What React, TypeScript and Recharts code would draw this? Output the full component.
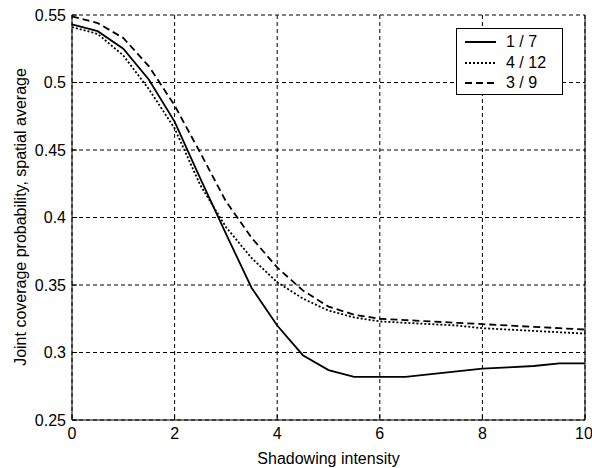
import { CartesianGrid, Line, LineChart, ReferenceLine, XAxis, YAxis } from "recharts";

// shadowing intensity samples and the spatial-average joint coverage per configuration
const intensity = [0, 0.5, 1, 1.5, 2, 2.5, 3, 3.5, 4, 4.5, 5, 5.5, 6, 6.5, 7, 7.5, 8, 8.5, 9, 9.5, 10];
const cov1of7 = [0.543, 0.538, 0.525, 0.502, 0.471, 0.429, 0.388, 0.348, 0.32, 0.298, 0.287, 0.282, 0.282, 0.282, 0.284, 0.286, 0.288, 0.289, 0.29, 0.292, 0.292];
const cov4of12 = [0.541, 0.536, 0.52, 0.495, 0.466, 0.424, 0.393, 0.37, 0.352, 0.34, 0.331, 0.326, 0.323, 0.322, 0.321, 0.32, 0.318, 0.317, 0.316, 0.315, 0.314];
const cov3of9 = [0.549, 0.544, 0.533, 0.512, 0.483, 0.448, 0.412, 0.385, 0.363, 0.346, 0.334, 0.328, 0.325, 0.324, 0.323, 0.322, 0.321, 0.32, 0.319, 0.318, 0.317];

const xTicks = [0, 2, 4, 6, 8, 10];
const yTicks = [0.25, 0.3, 0.35, 0.4, 0.45, 0.5, 0.55];

const series = [
  { key: "c1of7", name: "1 / 7", values: cov1of7, dash: undefined as string | undefined },
  { key: "c4of12", name: "4 / 12", values: cov4of12, dash: "2 2" },
  { key: "c3of9", name: "3 / 9", values: cov3of9, dash: "7 4" },
];

const data = intensity.map((x, i) => {
  const row: Record<string, number> = { x };
  series.forEach((s) => (row[s.key] = s.values[i]));
  return row;
});

const FONT = "'Liberation Sans', Arial, sans-serif";
const tickStyle = { fill: "#000", fontSize: 16, fontFamily: FONT };

// legend box drawn over the upper right of the plot
function LegendBox() {
  return (
    <div
      style={{
        position: "absolute",
        left: 456,
        top: 28,
        width: 107,
        height: 67,
        boxSizing: "border-box",
        border: "1px solid #000",
        background: "#fff",
        padding: "3px 0 0 8px",
        fontFamily: FONT,
        fontSize: 16,
        color: "#000",
      }}
    >
      {series.map((s) => (
        <div key={s.key} style={{ display: "flex", alignItems: "center", height: 20.5 }}>
          <svg width={32} height={6}>
            <line x1={0} y1={3} x2={31} y2={3} stroke="#000" strokeWidth={2} strokeDasharray={s.dash} />
          </svg>
          <span style={{ marginLeft: 9 }}>{s.name}</span>
        </div>
      ))}
    </div>
  );
}

function YTitle() {
  return (
    <text
      x={20}
      y={217}
      transform="rotate(-90 20 217)"
      textAnchor="middle"
      dominantBaseline="central"
      fill="#000"
      fontSize={16}
      fontFamily={FONT}
    >
      Joint coverage probability, spatial average
    </text>
  );
}

export default function App() {
  return (
    <div style={{ position: "absolute", left: 0, top: 0, width: 592, height: 468, background: "#fff" }}>
      <LineChart width={592} height={468} data={data} margin={{ top: 15, right: 7, bottom: 0, left: 0 }}>
        <CartesianGrid stroke="#000" strokeDasharray="4 3" />
        <XAxis
          type="number"
          dataKey="x"
          domain={[0, 10]}
          ticks={xTicks}
          height={48}
          stroke="#000"
          tickSize={-5}
          tickMargin={13}
          tick={tickStyle}
          label={{ value: "Shadowing intensity", position: "insideBottom", offset: 4, fill: "#000", fontSize: 16, fontFamily: FONT }}
        />
        <YAxis
          type="number"
          domain={[0.25, 0.55]}
          ticks={yTicks}
          width={72}
          stroke="#000"
          tickSize={-5}
          tickMargin={11}
          tick={tickStyle}
          tickFormatter={(v: number) => String(v)}
          label={{ content: () => <YTitle /> }}
        />
        <ReferenceLine x={10} stroke="#000" />
        {series.map((s) => (
          <Line
            key={s.key}
            type="linear"
            dataKey={s.key}
            name={s.name}
            stroke="#000"
            strokeWidth={1.8}
            strokeDasharray={s.dash}
            dot={false}
            isAnimationActive={false}
          />
        ))}
      </LineChart>
      <LegendBox />
    </div>
  );
}
